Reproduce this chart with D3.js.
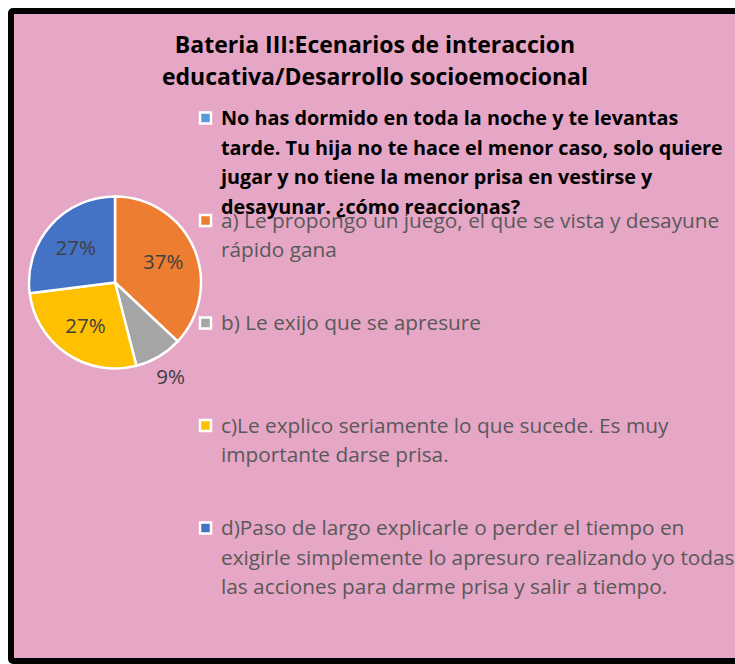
<!DOCTYPE html>
<html lang="es">
<head>
    <meta charset="utf-8" />
    <title>Bateria III: Ecenarios de interaccion educativa</title>
    <script type="text/javascript" src="https://cdn.jsdelivr.net/npm/d3@7/dist/d3.min.js"></script>
    <style type="text/css">
        html, body { margin: 0; padding: 0; background: #ffffff; overflow: hidden; }
        svg { display: block; font-family: "Open Sans", "Noto Sans", sans-serif; }
    </style>
</head>
<body>
    <div id="chart"></div>

    <script type="text/javascript">
        // data
        const titleLines = ['Bateria III:Ecenarios de interaccion', 'educativa/Desarrollo socioemocional'];
        const categories = ['pregunta', 'a', 'b', 'c', 'd'];
        const categoryLines = [
            ['No has dormido en toda la noche y te levantas',
             'tarde. Tu hija no te hace el menor caso, solo quiere',
             'jugar y no tiene la menor prisa en vestirse y',
             'desayunar. ¿cómo reaccionas?'],
            ['a) Le propongo un juego, el que se vista y desayune',
             'rápido gana'],
            ['b) Le exijo que se apresure'],
            ['c)Le explico seriamente lo que sucede. Es muy',
             'importante darse prisa.'],
            ['d)Paso de largo explicarle o perder el tiempo en',
             'exigirle simplemente lo apresuro realizando yo todas',
             'las acciones para darme prisa y salir a tiempo.']
        ];
        const values = [0, 37, 9, 27, 27];
        const colors = ['#5B9BD5', '#ED7D31', '#A5A5A5', '#FFC000', '#4472C4'];

        const width = 735, height = 664;
        const cx = 115, cy = 282.5, radius = 86;

        const color = d3.scaleOrdinal(categories, colors);

        const svg = d3.select('#chart').append('svg')
            .attr('width', width)
            .attr('height', height);

        // pink chart area with thick black frame (runs off the right edge)
        svg.append('rect')
            .attr('x', 11)
            .attr('y', 11)
            .attr('width', 780)
            .attr('height', 650)
            .attr('rx', 2)
            .style('fill', '#E6A6C5')
            .style('stroke', '#000000')
            .style('stroke-width', 6);

        // title
        svg.append('g')
            .selectAll('text')
            .data(titleLines)
            .enter().append('text')
            .attr('x', 375)
            .attr('y', (d, i) => 53 + i * 32)
            .attr('text-anchor', 'middle')
            .style('font-size', '23px')
            .style('font-weight', 700)
            .style('fill', '#000000')
            .text(d => d);

        // pie
        const pie = d3.pie().sort(null).value(d => d);
        const arcs = pie(values).map((a, i) => Object.assign(a, {cat: categories[i]}));
        const arc = d3.arc().innerRadius(0).outerRadius(radius);
        const inArc = d3.arc().innerRadius(radius * 0.61).outerRadius(radius * 0.61);
        const outArc = d3.arc().innerRadius(radius * 1.27).outerRadius(radius * 1.27);

        const g = svg.append('g')
            .attr('transform', 'translate(' + cx + ',' + cy + ')');

        g.selectAll('path')
            .data(arcs.filter(d => d.value > 0))
            .enter().append('path')
            .attr('d', arc)
            .style('fill', d => color(d.cat))
            .style('stroke', '#ffffff')
            .style('stroke-width', 2.5)
            .style('stroke-linejoin', 'round');

        g.selectAll('text')
            .data(arcs.filter(d => d.value > 0))
            .enter().append('text')
            .attr('transform', d => 'translate(' + (d.value < 10 ? outArc : inArc).centroid(d) + ')')
            .attr('text-anchor', 'middle')
            .attr('dy', '0.36em')
            .style('font-size', '20.5px')
            .style('fill', '#404040')
            .text(d => d.value + '%');

        // legend
        const legendY = d3.scaleLinear().domain([0, categories.length - 1]).range([118, 528]);

        const legend = svg.selectAll('.legends')
            .data(categories)
            .enter().append('g')
            .attr('class', 'legends')
            .attr('transform', (d, i) => 'translate(199,' + legendY(i) + ')');

        legend.append('rect')
            .attr('x', 1)
            .attr('y', -5.5)
            .attr('width', 11)
            .attr('height', 11)
            .style('fill', d => color(d))
            .style('stroke', '#ffffff')
            .style('stroke-width', 2.5);

        legend.append('text')
            .attr('x', 22)
            .attr('y', 7)
            .style('font-size', (d, i) => i === 0 ? '19.8px' : '20.8px')
            .style('font-weight', (d, i) => i === 0 ? 700 : 400)
            .style('fill', (d, i) => i === 0 ? '#000000' : '#595959')
            .selectAll('tspan')
            .data((d, i) => categoryLines[i])
            .enter().append('tspan')
            .attr('x', 22)
            .attr('dy', (d, j) => j === 0 ? 0 : 29.5)
            .text(d => d);
    </script>
</body>
</html>
